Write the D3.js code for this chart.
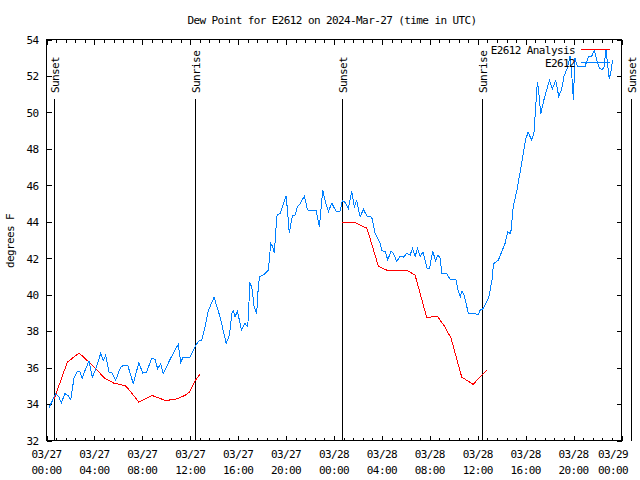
<!DOCTYPE html>
<html><head><meta charset="utf-8">
<script src="https://cdn.jsdelivr.net/npm/d3@7"></script>
<style>
body{margin:0;background:#fff}
text{font-family:"DejaVu Sans Mono","Liberation Mono",monospace;font-size:11px;letter-spacing:-0.6px;fill:#000}
</style>
</head><body><svg id="c" width="640" height="480"></svg>
<script>
const chartTitle = "Dew Point for E2612 on 2024-Mar-27 (time in UTC)";
const yAxisLabel = "degrees F";
const yTicks = [32,34,36,38,40,42,44,46,48,50,52,54];
const xTickHours = [0,4,8,12,16,20,24,28,32,36,40,44,48];
const xTickDates = ["03/27","03/27","03/27","03/27","03/27","03/27","03/28","03/28","03/28","03/28","03/28","03/28","03/29"];
const xTickTimes = ["00:00","04:00","08:00","12:00","16:00","20:00","00:00","04:00","08:00","12:00","16:00","20:00","00:00"];
const xMinorStep = 0.8;
const sunHours = [0.65,12.42,24.69,36.38,48.76];
const sunLabels = ["Sunset","Sunrise","Sunset","Sunrise","Sunset"];
const legendNames = ["E2612 Analysis","E2612"];

// hours since 2024-03-27 00:00 UTC, dew point F
const analysisDay1 = [[0.65,34.3],[1.74,36.3],[2.72,36.8],[3.38,36.4],[4.25,35.85],[4.79,35.45],[5.6,35.15],[6.6,35.0],[7.0,34.7],[7.71,34.1],[8.82,34.47],[9.92,34.2],[10.73,34.25],[11.54,34.47],[11.94,34.65],[12.44,35.3],[12.84,35.67]];
const analysisDay2 = [[24.69,43.97],[25.7,43.97],[26.73,43.65],[27.0,43.1],[27.7,41.57],[28.55,41.3],[29.15,41.3],[29.66,41.35],[30.2,41.3],[30.77,41.07],[31.74,38.75],[32.63,38.82],[33.26,38.23],[33.78,37.6],[34.66,35.48],[35.62,35.08],[36.3,35.57],[36.74,35.85]];
const observed = [[0.2,33.8],[0.78,34.57],[1.05,34.38],[1.24,34.05],[1.52,34.57],[1.79,34.48],[2.02,34.24],[2.29,35.4],[2.58,35.81],[2.77,35.8],[2.97,35.4],[3.27,35.94],[3.55,36.36],[3.82,35.48],[4.08,35.85],[4.52,36.77],[4.74,36.4],[4.94,36.68],[5.21,35.76],[5.49,35.7],[5.77,35.3],[6.19,36.03],[6.47,36.13],[6.8,36.09],[7.24,35.12],[7.71,36.27],[8.03,35.7],[8.36,35.76],[8.77,36.5],[9.05,36.46],[9.28,35.94],[9.53,36.22],[9.75,35.67],[10.35,36.5],[11.0,37.28],[11.2,36.3],[11.42,36.58],[11.98,36.58],[12.4,37.13],[12.68,37.45],[12.95,37.5],[13.23,38.23],[13.52,39.15],[13.99,39.85],[14.49,38.78],[15.0,37.32],[15.27,37.78],[15.47,38.97],[15.6,39.1],[15.74,38.78],[15.94,39.1],[16.1,38.6],[16.27,38.05],[16.57,38.42],[16.8,38.23],[16.98,40.62],[17.14,40.43],[17.33,39.33],[17.55,38.97],[17.63,39.98],[17.77,40.98],[18.1,41.08],[18.52,41.35],[18.72,42.82],[18.89,42.63],[19.02,42.27],[19.22,44.28],[19.29,44.38],[19.5,44.47],[19.7,44.83],[20.0,45.42],[20.1,44.74],[20.27,43.37],[20.52,44.32],[20.75,44.38],[20.95,44.83],[21.17,44.98],[21.53,45.42],[21.78,44.65],[22.5,44.61],[22.78,43.73],[23.06,45.75],[23.2,45.29],[23.53,44.56],[23.82,45.02],[24.18,44.56],[24.5,44.56],[24.69,45.16],[24.92,45.07],[25.2,44.74],[25.48,45.66],[25.7,44.83],[25.89,45.16],[26.18,44.28],[26.46,44.68],[26.74,44.32],[27.15,44.25],[27.43,43.37],[27.86,42.82],[28.0,42.41],[28.27,42.36],[28.49,41.9],[28.76,42.41],[28.96,42.27],[29.24,41.81],[29.52,42.12],[29.8,42.05],[30.08,42.27],[30.36,42.18],[30.55,42.54],[30.78,42.12],[30.98,42.54],[31.2,42.08],[31.43,42.36],[31.77,41.44],[31.98,41.44],[32.24,42.41],[32.47,41.86],[32.68,42.18],[32.86,41.99],[33.0,41.17],[33.4,41.17],[33.7,40.84],[34.17,40.84],[34.39,40.16],[34.54,39.88],[34.68,40.21],[34.86,39.98],[35.22,38.97],[36.06,38.93],[36.2,39.15],[36.47,39.24],[36.92,39.85],[37.19,40.8],[37.32,41.72],[37.45,41.75],[37.72,41.9],[38.0,42.36],[38.28,42.82],[38.5,43.46],[38.75,43.33],[38.96,44.83],[39.25,45.66],[39.52,46.67],[39.74,47.49],[39.99,48.5],[40.2,48.9],[40.5,48.5],[40.69,48.83],[40.84,50.33],[40.97,51.65],[41.06,51.34],[41.26,49.93],[41.53,50.7],[41.76,51.25],[41.98,51.76],[42.23,51.29],[42.51,51.76],[42.76,50.88],[43.01,51.29],[43.2,51.98],[43.48,52.44],[43.7,53.08],[43.84,52.17],[43.98,50.7],[44.12,52.99],[44.31,52.53],[44.96,52.53],[45.23,53.05],[45.51,53.08],[45.73,53.41],[45.92,52.9],[46.14,52.44],[46.34,52.35],[46.53,52.44],[46.7,53.45],[46.84,52.63],[46.98,51.84],[47.12,52.26],[47.26,52.9]];

const colors = {analysis:"#ff0000", observed:"#0080ff"};

const svg = d3.select("#c");
svg.append("rect").attr("width",640).attr("height",480).attr("fill","#fff");
const L=46.5, R=621.5, T=39.5, B=440.5;
const x = d3.scaleLinear().domain([0,48]).range([L,R]);
const y = d3.scaleLinear().domain([32,54]).range([B,T]);
const xMinorHours = d3.range(0, 48 + 1e-6, xMinorStep).filter(h => !xTickHours.some(m => Math.abs(m-h) < 1e-6));

// title
svg.append("text").attr("x",332).attr("y",24).attr("text-anchor","middle").text(chartTitle);
// y label
svg.append("text").attr("transform","translate(14,241) rotate(-90)").attr("text-anchor","middle").text(yAxisLabel);

// axes (inward ticks)
const axL = svg.append("g").attr("transform",`translate(${L},0)`)
  .call(d3.axisLeft(y).tickValues(yTicks).tickSizeInner(-5).tickSizeOuter(0).tickPadding(8).tickFormat(d3.format("d")));
const axR = svg.append("g").attr("transform",`translate(${R},0)`)
  .call(d3.axisRight(y).tickValues(yTicks).tickSizeInner(-5).tickSizeOuter(0).tickFormat(""));
const axB = svg.append("g").attr("transform",`translate(0,${B})`)
  .call(d3.axisBottom(x).tickValues(xTickHours).tickSizeInner(-5).tickSizeOuter(0).tickFormat(""));
const axT = svg.append("g").attr("transform",`translate(0,${T})`)
  .call(d3.axisTop(x).tickValues(xTickHours).tickSizeInner(-5).tickSizeOuter(0).tickFormat(""));
const axBm = svg.append("g").attr("transform",`translate(0,${B})`)
  .call(d3.axisBottom(x).tickValues(xMinorHours).tickSizeInner(-3).tickSizeOuter(0).tickFormat(""));
const axTm = svg.append("g").attr("transform",`translate(0,${T})`)
  .call(d3.axisTop(x).tickValues(xMinorHours).tickSizeInner(-3).tickSizeOuter(0).tickFormat(""));
[axL,axR,axB,axT,axBm,axTm].forEach(g=>{
  g.select(".domain").remove();
  g.selectAll("line").attr("stroke","#000").attr("shape-rendering","crispEdges");
  g.selectAll("text").attr("font-family",null).attr("font-size",null).attr("fill","#000");
});
axL.selectAll("text").attr("dy","0.35em");

// x tick labels (two lines)
const xl = svg.append("g");
xTickHours.forEach((h,i)=>{
  const last = i===xTickHours.length-1;
  const px = last ? 628 : x(h);
  const t = xl.append("text").attr("text-anchor", last?"end":"middle").attr("x", px);
  t.append("tspan").attr("x", px).attr("y",458).text(xTickDates[i]);
  t.append("tspan").attr("x", px).attr("y",474).text(xTickTimes[i]);
});

// border
svg.append("rect").attr("x",L).attr("y",T).attr("width",R-L).attr("height",B-T)
  .attr("fill","none").attr("stroke","#000").attr("shape-rendering","crispEdges");

// sun lines
const sg = svg.append("g");
sunHours.forEach((h,i)=>{
  const xp = Math.round(x(h))+0.5;
  sg.append("line").attr("x1",xp).attr("x2",xp).attr("y1",99).attr("y2",B)
    .attr("stroke","#000").attr("shape-rendering","crispEdges");
  sg.append("text").attr("transform",`translate(${xp+4.5},93) rotate(-90)`)
    .attr("text-anchor","start").text(sunLabels[i]);
});

// lines
const line = d3.line().x(d=>x(d[0])).y(d=>y(d[1]));
[analysisDay1, analysisDay2].forEach(seg=>{
  svg.append("path").datum(seg).attr("d",line).attr("fill","none")
    .attr("stroke",colors.analysis).attr("stroke-width",1).attr("shape-rendering","crispEdges");
});
svg.append("path").datum(observed).attr("d",line).attr("fill","none")
  .attr("stroke",colors.observed).attr("stroke-width",1).attr("shape-rendering","crispEdges");

// legend
const lg = svg.append("g");
[[legendNames[0],colors.analysis,49.5],[legendNames[1],colors.observed,62.5]].forEach(([n,c,yy])=>{
  lg.append("text").attr("x",575).attr("y",yy+4).attr("text-anchor","end").text(n);
  lg.append("line").attr("x1",581).attr("x2",610).attr("y1",yy).attr("y2",yy)
    .attr("stroke",c).attr("shape-rendering","crispEdges");
});
</script>
</body></html>
